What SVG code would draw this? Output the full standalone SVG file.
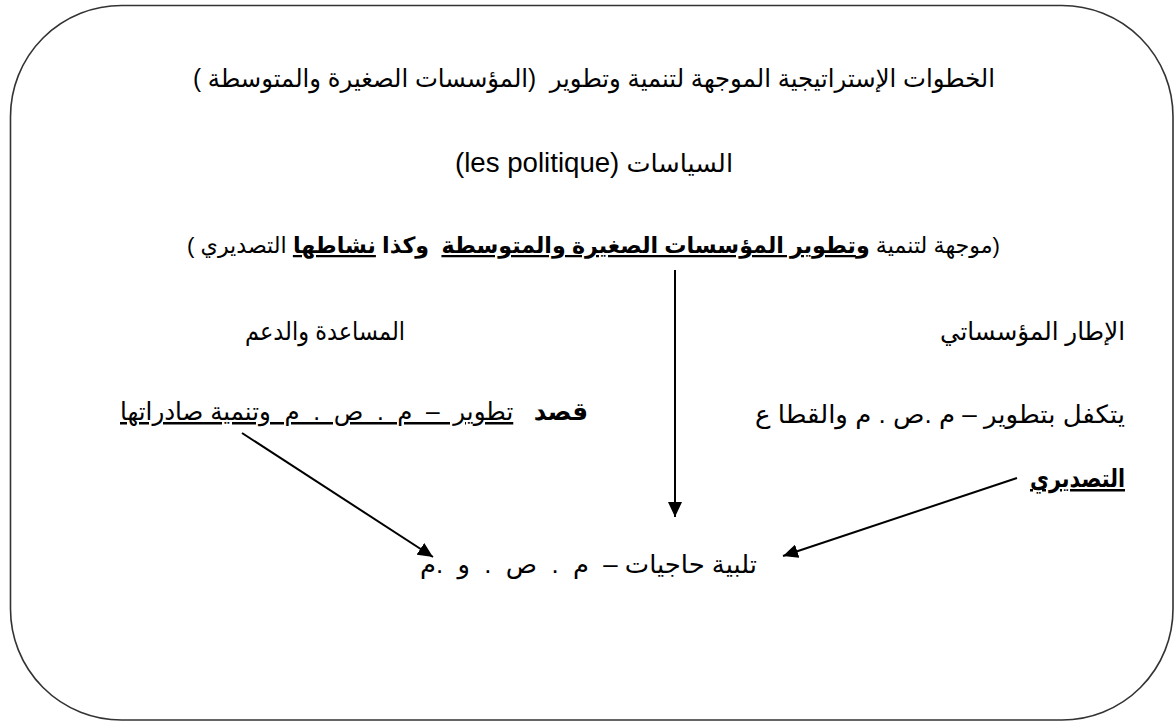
<svg xmlns="http://www.w3.org/2000/svg" width="1175" height="722" viewBox="0 0 1175 722">
<style>
.t{font-family:"Liberation Sans","DejaVu Sans",sans-serif;font-size:25px;fill:#000;direction:rtl;text-anchor:start;white-space:pre}
.s{font-size:22.5px}
.b{font-weight:bold}
.u{text-decoration:underline}
.lat{font-size:27px}
.c{stroke:#000;stroke-width:2;fill:none}
</style>
<defs>
<marker id="ah" markerUnits="userSpaceOnUse" markerWidth="16" markerHeight="14" refX="15" refY="7" orient="auto">
<path d="M0,0 L15,7 L0,14 z" fill="#000"/>
</marker>
</defs>
<rect id="frame" x="10.5" y="5.5" width="1162.5" height="714.5" rx="111" ry="111" fill="#fff" stroke="#333" stroke-width="1.6"/>
<g id="title"><text class="t" xml:space="preserve" x="995" y="87" textLength="802" lengthAdjust="spacingAndGlyphs">الخطوات الإستراتيجية الموجهة لتنمية وتطوير  (المؤسسات الصغيرة والمتوسطة )</text></g>
<g id="policies"><text class="t" xml:space="preserve" x="733" y="172" textLength="278" lengthAdjust="spacingAndGlyphs">السياسات <tspan class="lat">(les politique)</tspan></text></g>
<g id="aim"><text class="t s" xml:space="preserve" x="1000" y="253" textLength="813" lengthAdjust="spacingAndGlyphs">(موجهة لتنمية <tspan class="b">و<tspan class="u">تطوير المؤسسات الصغيرة والمتوسطة</tspan>  وكذا <tspan class="u">نشاطها</tspan></tspan> التصديري )</text></g>
<g id="support"><text class="t" xml:space="preserve" x="405" y="340" textLength="160" lengthAdjust="spacingAndGlyphs">المساعدة والدعم</text>
<text class="t" xml:space="preserve" x="588" y="420" textLength="468" lengthAdjust="spacingAndGlyphs"><tspan class="b">قصد</tspan>   <tspan class="u">تطوير  –  م  .  ص  .  م  وتنمية صادراتها</tspan></text></g>
<g id="framework"><text class="t" xml:space="preserve" x="1125" y="340" textLength="185" lengthAdjust="spacingAndGlyphs">الإطار المؤسساتي</text>
<text class="t" xml:space="preserve" x="1125" y="423" textLength="370" lengthAdjust="spacingAndGlyphs">يتكفل بتطوير – م .ص . م والقطا ع</text>
<text class="t b" xml:space="preserve" x="1125" y="487" textLength="95" lengthAdjust="spacingAndGlyphs"><tspan class="u">التصديري</tspan></text></g>
<g id="needs"><text class="t" xml:space="preserve" x="757" y="573" textLength="337" lengthAdjust="spacingAndGlyphs">تلبية حاجيات –  م  .  ص  .  و  .م</text></g>
<g id="connectors">
<line class="c" x1="675" y1="270" x2="675" y2="517" marker-end="url(#ah)"/>
<line class="c" x1="242" y1="433" x2="433" y2="557" marker-end="url(#ah)"/>
<line class="c" x1="1017" y1="478" x2="783" y2="556" marker-end="url(#ah)"/>
</g>
</svg>
